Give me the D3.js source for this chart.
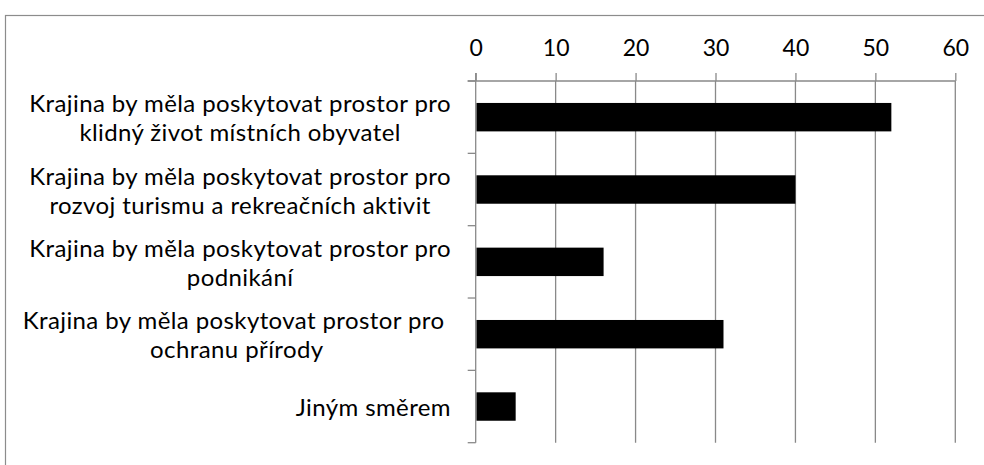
<!DOCTYPE html>
<html>
<head>
<meta charset="utf-8">
<script src="https://cdn.jsdelivr.net/npm/d3@7"></script>
<style>
  html, body { margin: 0; padding: 0; background: #fff; }
  svg { display: block; font-family: Lato, "Open Sans", sans-serif; }
</style>
</head>
<body>
<div class="visHolder"></div>
<script>
const categories = [
  ['Krajina by měla poskytovat prostor pro', 'klidný život místních obyvatel'],
  ['Krajina by měla poskytovat prostor pro', 'rozvoj turismu a rekreačních aktivit'],
  ['Krajina by měla poskytovat prostor pro', 'podnikání'],
  ['Krajina by měla poskytovat prostor pro ', 'ochranu přírody'],
  ['Jiným směrem']
];
const values = [52, 40, 16, 31, 5];
const xTicks = [0, 10, 20, 30, 40, 50, 60];

const w = 984, h = 465;
const plotLeft = 475.7, plotRight = 955.3, plotTop = 81, plotBottom = 442.7;
const gridColor = '#898989';

const svg = d3.select('.visHolder')
  .append('svg')
  .attr('width', w)
  .attr('height', h);

// chart area border, runs off the right and bottom edge
svg.append('rect')
  .attr('x', 5.5)
  .attr('y', 15.5)
  .attr('width', 1000)
  .attr('height', 500)
  .attr('fill', 'none')
  .attr('stroke', '#8c8c8c')
  .attr('stroke-width', 1.2);

const xScale = d3.scaleLinear()
  .domain([0, 60])
  .range([plotLeft, plotRight]);

const yScale = d3.scaleBand()
  .domain(d3.range(categories.length))
  .range([plotTop, plotBottom])
  .paddingInner(0.607)
  .paddingOuter(0.3035);

const step = yScale.step();

// gridlines
svg.append('g')
  .selectAll('line')
  .data(xTicks.slice(1))
  .join('line')
    .attr('x1', d => xScale(d))
    .attr('x2', d => xScale(d))
    .attr('y1', plotTop)
    .attr('y2', plotBottom)
    .attr('stroke', gridColor)
    .attr('stroke-width', 1.3);

// top axis
const xAxis = d3.axisTop(xScale)
  .tickValues(xTicks)
  .tickSize(8)
  .tickPadding(17)
  .tickSizeOuter(0);

const gx = svg.append('g')
  .attr('id', 'x-axis')
  .attr('transform', `translate(0, ${plotTop})`)
  .call(xAxis);

gx.select('.domain').remove();
gx.append('line')
  .attr('x1', plotLeft - 8)
  .attr('x2', plotRight)
  .attr('stroke', gridColor)
  .attr('stroke-width', 1.3);
gx.selectAll('.tick line')
  .attr('stroke', gridColor)
  .attr('stroke-width', 1.3);
gx.selectAll('.tick text')
  .attr('font-family', 'Lato, "Open Sans", sans-serif')
  .attr('font-size', 23)
  .attr('fill', '#000');

// left axis: vertical line plus category boundary ticks
const gy = svg.append('g').attr('id', 'y-axis');

gy.append('line')
  .attr('x1', plotLeft)
  .attr('x2', plotLeft)
  .attr('y1', plotTop - 8)
  .attr('y2', plotBottom)
  .attr('stroke', gridColor)
  .attr('stroke-width', 1.3);

gy.selectAll('.cat-tick')
  .data(d3.range(categories.length + 1))
  .join('line')
    .attr('class', 'cat-tick')
    .attr('x1', plotLeft - 8)
    .attr('x2', plotLeft)
    .attr('y1', i => plotTop + i * step)
    .attr('y2', i => plotTop + i * step)
    .attr('stroke', gridColor)
    .attr('stroke-width', 1.3);

// bars
svg.append('g')
  .selectAll('rect')
  .data(values)
  .join('rect')
    .attr('x', xScale(0) + 0.8)
    .attr('y', (d, i) => yScale(i))
    .attr('width', d => xScale(d) - xScale(0) - 0.8)
    .attr('height', yScale.bandwidth())
    .attr('fill', '#000');

// category labels, centred block with right edge near the axis
const labelRight = 451;
const lineGap = 29;

const labels = svg.append('g')
  .selectAll('g')
  .data(categories)
  .join('g');

labels.each(function(lines, i) {
  const g = d3.select(this);
  const cy = yScale(i) + yScale.bandwidth() / 2;
  const texts = g.selectAll('text')
    .data(lines)
    .join('text')
      .attr('font-size', 24)
      .attr('letter-spacing', 0.4)
      .attr('fill', '#000')
      .attr('text-anchor', 'middle')
      .attr('dominant-baseline', 'central')
      .style('white-space', 'pre')
      .attr('y', (d, j) => cy + (j - (lines.length - 1) / 2) * lineGap)
      .text(d => d);
  const maxW = d3.max(texts.nodes(), n => n.getComputedTextLength());
  texts.attr('x', labelRight - maxW / 2);
});
</script>
</body>
</html>
